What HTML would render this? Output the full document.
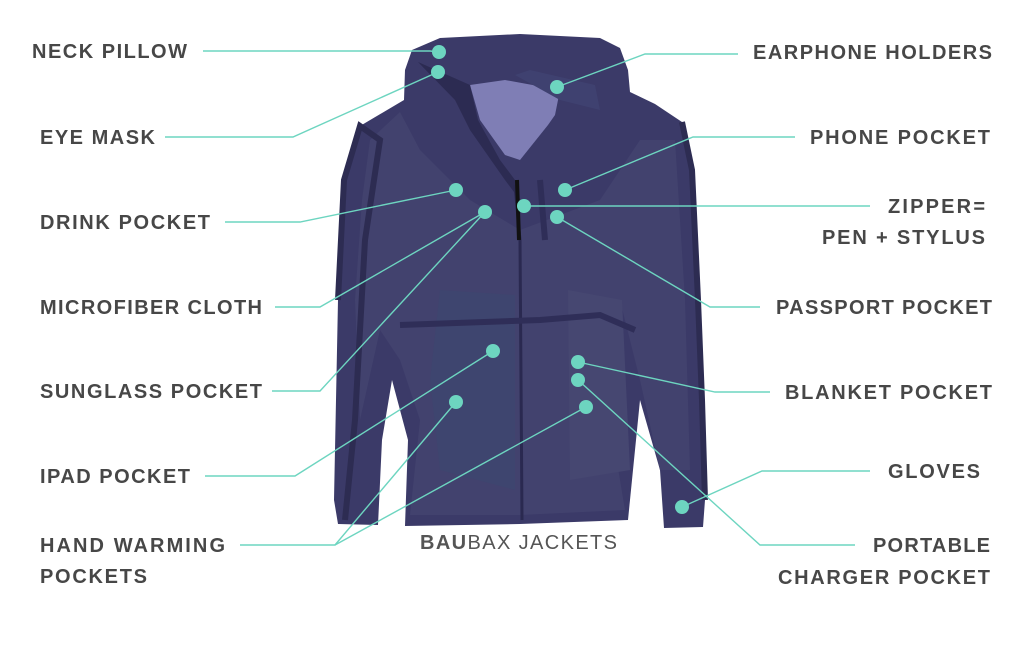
<!DOCTYPE html>
<html><head><meta charset="utf-8"><style>
html,body{margin:0;padding:0;background:#fff;width:1024px;height:652px;overflow:hidden}
svg text{font-family:"Liberation Sans",sans-serif;font-size:20px;font-weight:bold;fill:#474747}
</style></head><body>
<svg width="1024" height="652" viewBox="0 0 1024 652" xmlns="http://www.w3.org/2000/svg">
<!-- jacket -->
<path d="M405,70 L412,50 L440,38 L520,34 L600,38 L620,48 L628,70 L630,92 L655,104 L682,122 L692,170 L698,300 L702,400 L705,500 L703,527 L664,528 L660,470 L640,400 L628,520 L520,524 L405,526 L408,440 L392,380 L382,440 L378,525 L338,524 L334,500 L338,300 L344,180 L360,126 L404,100 Z" fill="#3b3a68"/>
<path d="M370,140 L400,112 L420,150 L470,200 L520,230 L600,200 L640,140 L675,140 L685,300 L690,470 L660,470 L640,380 L620,300 L610,420 L625,510 L520,515 L410,515 L420,420 L400,360 L380,330 L360,420 L355,300 L362,200 Z" fill="#42426e"/>
<path d="M440,290 L515,295 L515,490 L440,470 L430,380 Z" fill="#3e456f"/>
<path d="M568,290 L622,300 L630,470 L570,480 Z" fill="#464771"/>
<path d="M470,85 L505,80 L560,90 L555,115 L548,125 L520,160 L505,155 L480,120 Z" fill="#7f7eb5"/>
<path d="M515,75 L530,70 L595,85 L600,110 L560,100 Z" fill="#3f4170"/>
<path d="M418,62 L470,85 L478,120 L500,160 L515,180 L520,200 L505,180 L470,130 L455,100 Z" fill="#2c2b52"/>
<path d="M515,185 L520,240 L522,520" stroke="#2a2950" stroke-width="3" fill="none"/>
<path d="M517,180 L519,240" stroke="#111" stroke-width="4"/>
<path d="M540,180 L545,240" stroke="#2f2e58" stroke-width="6"/>
<path d="M400,325 L540,320 L600,315 L635,330" stroke="#2f2e58" stroke-width="6" fill="none"/>
<path d="M338,300 L344,180 L360,126 L380,140 L365,240 L355,420 L345,520" stroke="#2d2c52" stroke-width="6" fill="none"/>
<path d="M682,122 L692,170 L698,300 L702,400 L705,500" stroke="#2d2c52" stroke-width="6" fill="none"/>
<g stroke="#6dd5c0" stroke-width="1.4" fill="none">
<polyline points="203,51 430,51 439,52"/>
<polyline points="165,137 293,137 438,72"/>
<polyline points="738,54 645,54 557,87"/>
<polyline points="795,137 693,137 565,190"/>
<polyline points="870,206 524,206"/>
<polyline points="225,222 300,222 456,190"/>
<polyline points="275,307 320,307 485,212"/>
<polyline points="272,391 320,391 485,212"/>
<polyline points="760,307 710,307 557,217"/>
<polyline points="770,392 715,392 578,362"/>
<polyline points="205,476 295,476 493,351"/>
<polyline points="870,471 762,471 682,507"/>
<polyline points="240,545 335,545 456,402"/>
<polyline points="335,545 586,407"/>
<polyline points="855,545 760,545 578,380"/>
</g>
<g fill="#6dd5c0">
<circle cx="439" cy="52" r="7"/><circle cx="438" cy="72" r="7"/><circle cx="557" cy="87" r="7"/>
<circle cx="565" cy="190" r="7"/><circle cx="524" cy="206" r="7"/><circle cx="456" cy="190" r="7"/>
<circle cx="485" cy="212" r="7"/><circle cx="557" cy="217" r="7"/><circle cx="578" cy="362" r="7"/>
<circle cx="578" cy="380" r="7"/><circle cx="493" cy="351" r="7"/><circle cx="456" cy="402" r="7"/>
<circle cx="586" cy="407" r="7"/><circle cx="682" cy="507" r="7"/>
</g>
<text x="32" y="58" textLength="155">NECK PILLOW</text>
<text x="40" y="144" textLength="115">EYE MASK</text>
<text x="40" y="229" textLength="170">DRINK POCKET</text>
<text x="40" y="314" textLength="222">MICROFIBER CLOTH</text>
<text x="40" y="398" textLength="222">SUNGLASS POCKET</text>
<text x="40" y="483" textLength="150">IPAD POCKET</text>
<text x="40" y="552" textLength="185">HAND WARMING</text>
<text x="40" y="583" textLength="107">POCKETS</text>
<text x="753" y="59" textLength="239">EARPHONE HOLDERS</text>
<text x="810" y="144" textLength="180">PHONE POCKET</text>
<text x="888" y="213" textLength="97">ZIPPER=</text>
<text x="822" y="244" textLength="163">PEN + STYLUS</text>
<text x="776" y="314" textLength="216">PASSPORT POCKET</text>
<text x="785" y="399" textLength="207">BLANKET POCKET</text>
<text x="888" y="478" textLength="92">GLOVES</text>
<text x="873" y="552" textLength="117">PORTABLE</text>
<text x="778" y="584" textLength="212">CHARGER POCKET</text>
<text x="420" y="549" textLength="197" style="font-size:20px;font-weight:normal;fill:#555"><tspan font-weight="bold">BAU</tspan>BAX JACKETS</text>
</svg>
</body></html>
